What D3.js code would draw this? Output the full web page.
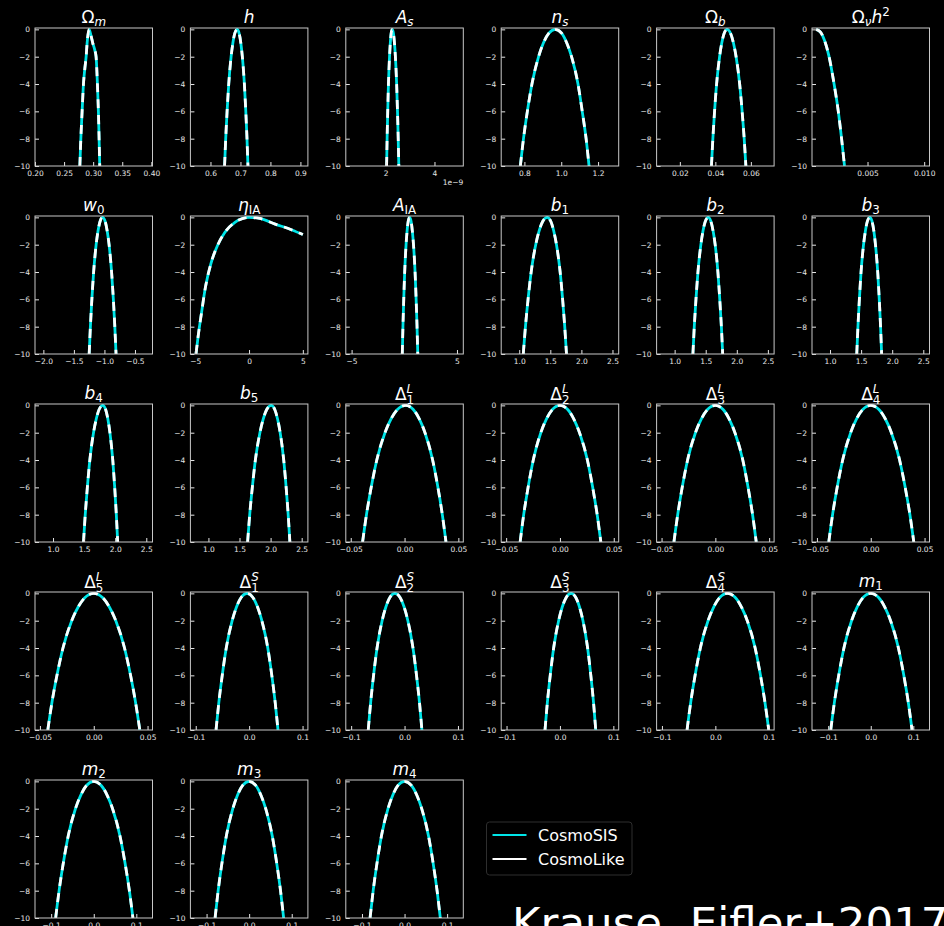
<!DOCTYPE html>
<html>
<head>
<meta charset="utf-8">
<script src="https://cdn.jsdelivr.net/npm/d3@7"></script>
<style>
  html, body { margin: 0; padding: 0; background: #000; }
  svg { display: block; }
</style>
</head>
<body>
<svg id="chart" width="944" height="926"></svg>
<script>
// ---- Parameter titles: [text, font, position] parts (rm = upright, it = italic)
const titles = [
  [["Ω","rm"],["m","it","sub"]],
  [["h","it"]],
  [["A","it"],["s","it","sub"]],
  [["n","it"],["s","it","sub"]],
  [["Ω","rm"],["b","it","sub"]],
  [["Ω","rm"],["ν","it","sub"],["h","it"],["2","rm","sup"]],
  [["w","it"],["0","rm","sub"]],
  [["η","it"],["IA","rm","sub"]],
  [["A","it"],["IA","rm","sub"]],
  [["b","it"],["1","rm","sub"]],
  [["b","it"],["2","rm","sub"]],
  [["b","it"],["3","rm","sub"]],
  [["b","it"],["4","rm","sub"]],
  [["b","it"],["5","rm","sub"]],
  [["Δ","rm"],["L","it","sup"],["1","rm","stack"]],
  [["Δ","rm"],["L","it","sup"],["2","rm","stack"]],
  [["Δ","rm"],["L","it","sup"],["3","rm","stack"]],
  [["Δ","rm"],["L","it","sup"],["4","rm","stack"]],
  [["Δ","rm"],["L","it","sup"],["5","rm","stack"]],
  [["Δ","rm"],["S","it","sup"],["1","rm","stack"]],
  [["Δ","rm"],["S","it","sup"],["2","rm","stack"]],
  [["Δ","rm"],["S","it","sup"],["3","rm","stack"]],
  [["Δ","rm"],["S","it","sup"],["4","rm","stack"]],
  [["m","it"],["1","rm","sub"]],
  [["m","it"],["2","rm","sub"]],
  [["m","it"],["3","rm","sub"]],
  [["m","it"],["4","rm","sub"]]
];

// ---- x-axis ranges
const xDomains = [
  [0.2, 0.402], [0.533, 0.925], [0.37, 5.18], [0.674, 1.312], [0.0069, 0.0731], [0.0001, 0.01047],
  [-2.137, -0.213], [-5.45, 5.47], [-5.55, 5.6], [0.71, 2.6], [0.71, 2.6], [0.71, 2.6],
  [0.71, 2.6], [0.71, 2.6], [-0.0546, 0.0546], [-0.0546, 0.0546], [-0.0546, 0.0546], [-0.0546, 0.0546],
  [-0.0546, 0.0546], [-0.11, 0.11], [-0.11, 0.11], [-0.11, 0.11], [-0.11, 0.11], [-0.138, 0.138],
  [-0.138, 0.138], [-0.138, 0.138], [-0.138, 0.138]
];

// ---- x-axis tick values and their labels
const xTicks = [
  [0.20, 0.25, 0.30, 0.35, 0.40], [0.6, 0.7, 0.8, 0.9], [2, 4], [0.8, 1.0, 1.2], [0.02, 0.04, 0.06], [0.005, 0.010],
  [-2.0, -1.5, -1.0, -0.5], [-5, 0, 5], [-5, 5], [1.0, 1.5, 2.0, 2.5], [1.0, 1.5, 2.0, 2.5], [1.0, 1.5, 2.0, 2.5],
  [1.0, 1.5, 2.0, 2.5], [1.0, 1.5, 2.0, 2.5], [-0.05, 0, 0.05], [-0.05, 0, 0.05], [-0.05, 0, 0.05], [-0.05, 0, 0.05],
  [-0.05, 0, 0.05], [-0.1, 0, 0.1], [-0.1, 0, 0.1], [-0.1, 0, 0.1], [-0.1, 0, 0.1], [-0.1, 0, 0.1],
  [-0.1, 0, 0.1], [-0.1, 0, 0.1], [-0.1, 0, 0.1]
];
const xTickLabels = [
  ["0.20","0.25","0.30","0.35","0.40"], ["0.6","0.7","0.8","0.9"], ["2","4"], ["0.8","1.0","1.2"],
  ["0.02","0.04","0.06"], ["0.005","0.010"],
  ["−2.0","−1.5","−1.0","−0.5"], ["−5","0","5"], ["−5","5"], ["1.0","1.5","2.0","2.5"],
  ["1.0","1.5","2.0","2.5"], ["1.0","1.5","2.0","2.5"],
  ["1.0","1.5","2.0","2.5"], ["1.0","1.5","2.0","2.5"], ["−0.05","0.00","0.05"], ["−0.05","0.00","0.05"],
  ["−0.05","0.00","0.05"], ["−0.05","0.00","0.05"],
  ["−0.05","0.00","0.05"], ["−0.1","0.0","0.1"], ["−0.1","0.0","0.1"], ["−0.1","0.0","0.1"],
  ["−0.1","0.0","0.1"], ["−0.1","0.0","0.1"],
  ["−0.1","0.0","0.1"], ["−0.1","0.0","0.1"], ["−0.1","0.0","0.1"]
];
const xOffsetLabels = ["", "", "1e−9", "", "", "", "", "", "", "", "", "", "", "", "", "", "", "", "", "", "", "", "", "", "", "", ""];

// ---- y axis (log-likelihood)
const yDomain = [-10, 0.1];
const yTicks = [0, -2, -4, -6, -8, -10];

// log-likelihood levels shared by most of the 1D scans
const levels = [-10, -8, -6, -4, -2, -1, -0.3, 0, -0.3, -1, -2, -4, -6, -8, -10];

// ---- 1D likelihood scans: parameter values
const scanX = [
  [0.2771, 0.2788, 0.2810, 0.2833, 0.2856, 0.2879, 0.2896, 0.2930, 0.2965, 0.2993, 0.3027, 0.3050, 0.3073, 0.3090, 0.3102, 0.3113],
  [0.647, 0.6508, 0.6554, 0.6609, 0.6688, 0.6747, 0.681, 0.689, 0.6958, 0.7012, 0.7063, 0.7131, 0.7178, 0.7218, 0.725],
  [2.04, 2.061, 2.086, 2.116, 2.160, 2.192, 2.226, 2.27, 2.321, 2.362, 2.400, 2.451, 2.486, 2.516, 2.54],
  [0.778, 0.795, 0.816, 0.841, 0.877, 0.903, 0.932, 0.968, 1.003, 1.030, 1.056, 1.091, 1.114, 1.135, 1.151],
  [0.0378, 0.0386, 0.03956, 0.0407, 0.04238, 0.04361, 0.04493, 0.0466, 0.04861, 0.0502, 0.05169, 0.0537, 0.05508, 0.05625, 0.0572],
  [0.00047, 0.00085, 0.0012, 0.00158, 0.00205, 0.00242, 0.00271, 0.00297],
  [-1.25, -1.230, -1.206, -1.177, -1.136, -1.105, -1.072, -1.03, -0.988, -0.955, -0.924, -0.883, -0.854, -0.830, -0.81],
  [-4.93, -4.73, -4.42, -4.05, -3.55, -2.93, -2.24, -1.31, 0, 1.0, 2.43, 3.99, 5.0],
  [-0.19, -0.128, -0.052, 0.038, 0.169, 0.265, 0.369, 0.5, 0.648, 0.765, 0.874, 1.023, 1.124, 1.210, 1.28],
  [1.065, 1.100, 1.142, 1.192, 1.265, 1.319, 1.377, 1.45, 1.509, 1.555, 1.599, 1.658, 1.698, 1.732, 1.76],
  [1.294, 1.316, 1.343, 1.375, 1.422, 1.456, 1.493, 1.54, 1.584, 1.619, 1.652, 1.696, 1.726, 1.752, 1.773],
  [1.43, 1.449, 1.472, 1.499, 1.539, 1.569, 1.600, 1.64, 1.676, 1.705, 1.731, 1.767, 1.792, 1.813, 1.83],
  [1.49, 1.518, 1.552, 1.592, 1.651, 1.695, 1.741, 1.80, 1.846, 1.882, 1.915, 1.961, 1.992, 2.018, 2.04],
  [1.63, 1.664, 1.706, 1.755, 1.828, 1.881, 1.938, 2.01, 2.067, 2.112, 2.154, 2.211, 2.25, 2.283, 2.31],
  [-0.039, -0.0354, -0.031, -0.0258, -0.0182, -0.0126, -0.0066, 0.001, 0.0081, 0.0138, 0.019, 0.0261, 0.031, 0.0351, 0.0385],
  [-0.037, -0.0337, -0.0296, -0.0248, -0.0178, -0.0126, -0.007, 0, 0.0072, 0.0129, 0.0182, 0.0255, 0.0304, 0.0346, 0.038],
  [-0.0385, -0.035, -0.0308, -0.0258, -0.0185, -0.0131, -0.0073, 0, 0.0072, 0.0129, 0.0182, 0.0255, 0.0304, 0.0346, 0.038],
  [-0.039, -0.0355, -0.0312, -0.0261, -0.0187, -0.0133, -0.0074, 0, 0.0076, 0.0136, 0.0192, 0.0268, 0.032, 0.0364, 0.040],
  [-0.0427, -0.0389, -0.0342, -0.0286, -0.0205, -0.0145, -0.0081, 0, 0.0081, 0.0145, 0.0205, 0.0286, 0.0342, 0.0389, 0.0428],
  [-0.062, -0.0568, -0.0504, -0.0429, -0.0318, -0.0237, -0.015, -0.004, 0.007, 0.0157, 0.0238, 0.0349, 0.0424, 0.0488, 0.054],
  [-0.068, -0.0635, -0.058, -0.0515, -0.042, -0.035, -0.0275, -0.018, -0.0084, -0.0008, 0.0062, 0.0158, 0.0224, 0.0280, 0.0325],
  [-0.028, -0.0236, -0.0182, -0.0118, -0.0025, 0.0043, 0.0117, 0.021, 0.0297, 0.0366, 0.0431, 0.0518, 0.0578, 0.0629, 0.067],
  [-0.053, -0.0462, -0.0379, -0.0281, -0.0137, -0.0031, 0.0082, 0.0226, 0.0373, 0.0489, 0.0598, 0.0745, 0.0845, 0.093, 0.100],
  [-0.094, -0.0855, -0.0752, -0.063, -0.0451, -0.032, -0.0179, 0, 0.0184, 0.033, 0.0466, 0.065, 0.0776, 0.0883, 0.097],
  [-0.0895, -0.0814, -0.0716, -0.06, -0.043, -0.0304, -0.017, 0, 0.0175, 0.0313, 0.0442, 0.0616, 0.0736, 0.0837, 0.092],
  [-0.080, -0.0728, -0.064, -0.0536, -0.0384, -0.0272, -0.0152, 0, 0.0154, 0.0275, 0.0389, 0.0543, 0.0648, 0.0737, 0.081],
  [-0.081, -0.0737, -0.0648, -0.0543, -0.0389, -0.0275, -0.0154, 0, 0.016, 0.0286, 0.0403, 0.0563, 0.0672, 0.0764, 0.084]
];

// ---- 1D likelihood scans: log-likelihood values
const scanY = [
  [-10, -8, -6, -4, -2.9, -2, -1, 0, -0.5, -1, -1.5, -2, -4, -6, -8, -10],
  levels, levels, levels, levels,
  [0, -0.2, -0.8, -1.9, -4, -6, -8, -10],
  levels,
  [-10, -8.7, -7.0, -5.1, -3.4, -2.06, -1.09, -0.36, 0, -0.08, -0.49, -0.92, -1.26],
  levels, levels, levels, levels,
  levels, levels, levels, levels, levels, levels,
  levels, levels, levels, levels, levels, levels,
  levels, levels, levels
];

// ---- series
const seriesNames = ["CosmoSIS", "CosmoLike"];
const seriesColors = ["#00e5e8", "#ffffff"];
const credit = "Krause, Eifler+2017";

// ---- layout
const W = 117.5, H = 138;
const colX0 = 35, colStep = 155.4;
const rowY0 = 28, rowStep = 188;
const FONT = "DejaVu Sans, Verdana, sans-serif";
const axisColor = "#c8c8c8";
const textColor = "#e6e6e6";

const svg = d3.select("#chart");
svg.append("rect").attr("width", 944).attr("height", 926).attr("fill", "#000");
const defs = svg.append("defs");

const fmtY = d => (d < 0 ? "−" + Math.abs(d) : String(d));

function drawTitle(g, parts, cx, baseY, fs) {
  const t = g.append("text")
    .attr("x", cx).attr("y", baseY)
    .attr("text-anchor", "middle")
    .attr("font-family", FONT)
    .attr("font-size", fs)
    .attr("fill", "#ffffff");
  let shift = 0, supLen = 0;
  const hasStack = parts.some(p => p[2] === "stack");
  parts.forEach(([s, f, pos]) => {
    let target = 0;
    if (pos === "sub") target = 3.2;
    else if (pos === "stack") target = 4.2;
    else if (pos === "sup") target = hasStack ? -7 : -6.5;
    const small = pos === "sub" || pos === "sup" || pos === "stack";
    const ts = t.append("tspan")
      .text(s)
      .attr("font-style", f === "it" ? "italic" : "normal")
      .attr("font-size", small ? fs * 0.7 : fs)
      .attr("dy", target - shift);
    if (pos === "stack") ts.attr("dx", -supLen);
    shift = target;
    if (pos === "sup") supLen = ts.node().getComputedTextLength();
  });
}

titles.forEach((parts, i) => {
  const c = i % 6, r = Math.floor(i / 6);
  const left = colX0 + colStep * c, top = rowY0 + rowStep * r;
  const g = svg.append("g").attr("transform", `translate(${left},${top})`);

  const x = d3.scaleLinear().domain(xDomains[i]).range([0, W]);
  const y = d3.scaleLinear().domain(yDomain).range([H, 0]);

  defs.append("clipPath").attr("id", "clip" + i)
    .append("rect").attr("width", W).attr("height", H);

  const pts = d3.zip(scanX[i], scanY[i]);
  const line = d3.line().x(d => x(d[0])).y(d => y(d[1])).curve(d3.curveMonotoneX);

  const plot = g.append("g").attr("clip-path", `url(#clip${i})`);
  // CosmoSIS: solid cyan; CosmoLike: white, dashed on top
  plot.append("path").attr("d", line(pts))
    .attr("fill", "none").attr("stroke", seriesColors[0])
    .attr("stroke-width", 2.8).attr("stroke-linejoin", "round");
  plot.append("path").attr("d", line(pts))
    .attr("fill", "none").attr("stroke", seriesColors[1])
    .attr("stroke-width", 2.8).attr("stroke-dasharray", "9,7");

  // axes with inward ticks
  const xa = d3.axisBottom(x)
    .tickValues(xTicks[i])
    .tickFormat((d, k) => xTickLabels[i][k])
    .tickSizeInner(-4).tickSizeOuter(0).tickPadding(4.5);
  const gx = g.append("g").attr("transform", `translate(0,${H})`).call(xa);
  gx.select(".domain").remove();

  const ya = d3.axisLeft(y)
    .tickValues(yTicks).tickFormat(fmtY)
    .tickSizeInner(-4).tickSizeOuter(0).tickPadding(5);
  const gy = g.append("g").call(ya);
  gy.select(".domain").remove();

  [gx, gy].forEach(a => {
    a.attr("font-family", FONT).attr("font-size", 7.5);
    a.selectAll("line").attr("stroke", textColor).attr("stroke-width", 1);
    a.selectAll("text").attr("fill", textColor);
  });

  if (xOffsetLabels[i]) {
    g.append("text").attr("x", W).attr("y", H + 19)
      .attr("text-anchor", "end")
      .attr("font-family", FONT).attr("font-size", 7.5)
      .attr("fill", textColor).text(xOffsetLabels[i]);
  }

  // frame
  g.append("rect").attr("width", W).attr("height", H)
    .attr("fill", "none").attr("stroke", axisColor).attr("stroke-width", 1);

  const lift = parts.some(p => p[2] === "stack") ? 4 : 5.5;
  drawTitle(g, parts, W / 2, -lift, 17);
});

// ---- legend
const lg = svg.append("g").attr("transform", "translate(486.5,822)");
lg.append("rect").attr("width", 145.5).attr("height", 53).attr("rx", 3)
  .attr("fill", "#000").attr("stroke", "#2e2e2e").attr("stroke-width", 1);
seriesNames.forEach((name, k) => {
  const yy = 13 + k * 24;
  lg.append("line").attr("x1", 6).attr("x2", 40).attr("y1", yy).attr("y2", yy)
    .attr("stroke", seriesColors[k]).attr("stroke-width", 2);
  lg.append("text").attr("x", 51.5).attr("y", yy + 5.6)
    .attr("font-family", FONT).attr("font-size", 16)
    .attr("fill", "#ffffff").text(name);
});

// ---- credit line
svg.append("text").attr("x", 512).attr("y", 938)
  .attr("font-family", FONT).attr("font-size", 43.5)
  .attr("fill", "#ffffff").text(credit);
</script>
</body>
</html>
